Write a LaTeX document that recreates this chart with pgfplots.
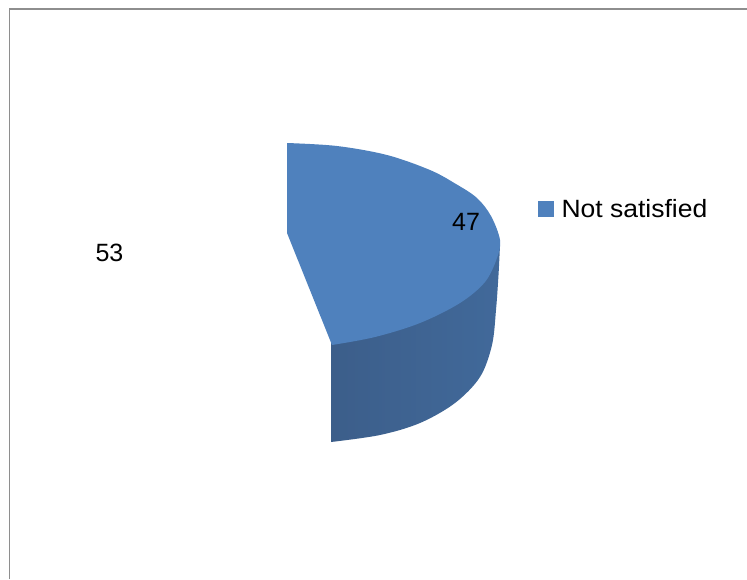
\documentclass[border=0pt]{standalone}
\usepackage{pgfplots}
\pgfplotsset{compat=1.18}
\usepackage{fontspec}
\setmainfont{Liberation Sans}
\definecolor{faceblue}{HTML}{4F81BD}
\definecolor{sidedark}{HTML}{3C5E8A}
\definecolor{sidemid}{HTML}{3E6592}
\definecolor{sidelight}{HTML}{41699A}
\definecolor{framegray}{HTML}{8E8E8E}
\begin{document}
\begin{tikzpicture}
\path[use as bounding box] (0,0) rectangle (747pt,579pt);
\begin{axis}[
  at={(0,0)}, anchor=south west,
  scale only axis, width=747pt, height=579pt,
  xmin=0, xmax=747, ymin=0, ymax=579,
  y dir=reverse,
  axis lines=none,
  clip=true,
  legend style={
    at={(axis cs:538,197)}, anchor=north west,
    draw=none, fill=none,
    inner sep=0pt, outer sep=0pt,
    font=\fontsize{25}{28}\selectfont,
    cells={anchor=west},
    /tikz/every odd column/.style={column sep=6pt},
  },
  legend cell align=left,
]
% chart frame
\addplot[draw=framegray, line width=1.3pt, forget plot]
  coordinates {(9.5,579) (9.5,9) (747,9)};

% rim of the slice, its upper part hidden under the top face
\addplot[draw=none, forget plot, smooth, tension=0.55, shading=axis,
  left color=sidedark, middle color=sidemid, right color=sidelight]
  coordinates {
    (500,245) (498.5,275) (496,310) (492,345) (480,377)
    (455,403) (420,423) (380,435) (331,442)
  } -- (axis cs:331,343) -- cycle;

% top face of the slice
\addplot[fill=faceblue, draw=none, smooth, tension=0.55,
  legend image code/.code={
    \node[fill=faceblue, inner sep=0pt, minimum size=15.5pt, anchor=west] at (0pt,0pt) {};
  }]
  coordinates {
    (287,143) (337,146) (387,155) (430,170) (456,184) (477,198) (491,216) (500,240)
    (497,258) (485,282) (460,303) (420,323) (375,337) (332,345)
  } -- (axis cs:287,233) -- cycle;
\addlegendentry{\scalebox{1.06}[1]{Not satisfied}}

% value labels
\node[font=\fontsize{25}{28}\selectfont] at (axis cs:466,222) {47};
\node[font=\fontsize{25}{28}\selectfont] at (axis cs:109.5,253) {53};
\end{axis}
\end{tikzpicture}
\end{document}
